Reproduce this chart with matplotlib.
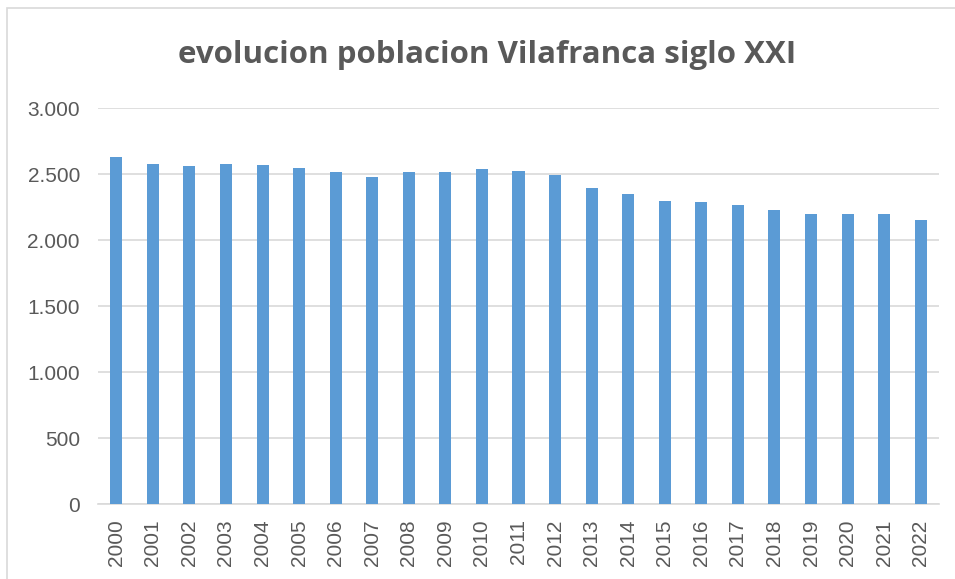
import matplotlib.pyplot as plt
from matplotlib.patches import Rectangle
from matplotlib.ticker import FuncFormatter

years = [str(y) for y in range(2000, 2023)]
poblacion = [2631, 2576, 2563, 2573, 2566, 2543, 2515, 2477, 2515, 2515, 2535, 2523,
             2490, 2394, 2348, 2293, 2288, 2265, 2225, 2197, 2194, 2199, 2151]
yticks = [0, 500, 1000, 1500, 2000, 2500, 3000]

W, H = 955, 579
fig = plt.figure(figsize=(W / 100, H / 100), dpi=100)
fig.patches.append(Rectangle((7 / W, -0.01), 1.0, 1 - 8 / H + 0.01, transform=fig.transFigure,
                             fill=False, edgecolor="#d9d9d9", linewidth=1.2))

ax = fig.add_axes([98 / W, (H - 504) / H, (939 - 98) / W, (504 - 108) / H])
ax.bar(range(len(years)), poblacion, width=0.33, color="#5b9bd5", zorder=3)
ax.set_xlim(-0.5, len(years) - 0.5)
ax.set_ylim(0, 3000)
ax.set_yticks(yticks)
ax.yaxis.set_major_formatter(FuncFormatter(lambda v, p: f"{int(v):,}".replace(",", ".")))
ax.set_xticks(range(len(years)))
ax.set_xticklabels(years, rotation=90)
ax.grid(axis="y", color="#d9d9d9", linewidth=1.2, zorder=0)
for s in ["top", "right", "left"]:
    ax.spines[s].set_visible(False)
ax.spines["bottom"].set_color("#d9d9d9")
ax.spines["bottom"].set_linewidth(1.2)
ax.tick_params(axis="both", length=0, colors="#595959", labelsize=15)
for lab in ax.get_xticklabels() + ax.get_yticklabels():
    lab.set_family("Liberation Sans")
ax.tick_params(axis="y", pad=13)
ax.tick_params(axis="x", pad=11)

fig.text(487 / W, 1 - 55 / H, "evolucion poblacion Vilafranca siglo XXI", ha="center", va="center",
         fontsize=22.5, fontweight="bold", color="#595959", family="Open Sans")

fig.savefig("out.png", dpi=100)
